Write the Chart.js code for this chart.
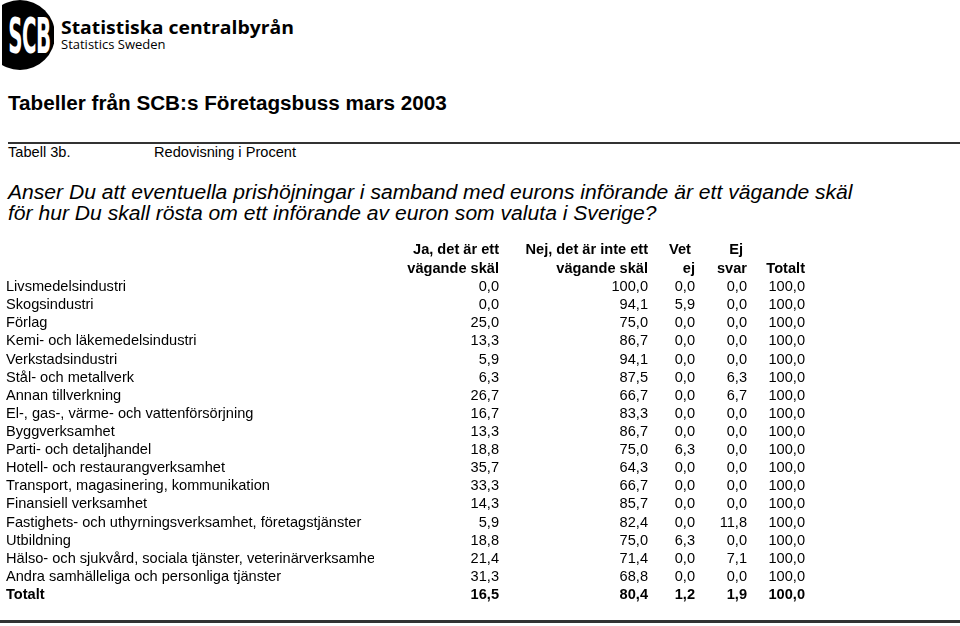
<!DOCTYPE html>
<html>
<head>
<meta charset="utf-8">
<title>Tabeller från SCB:s Företagsbuss mars 2003</title>
<script src="https://cdn.jsdelivr.net/npm/chart.js@4/dist/chart.umd.min.js"></script>
<style>
  body { margin: 0; background: #fff; }
  #page { position: relative; width: 960px; height: 626px; overflow: hidden; font-family: "Liberation Sans", Arial, sans-serif; color: #000; }
  .abs { position: absolute; white-space: nowrap; }
  #logoClip { left: 2px; top: 0; width: 52px; height: 70px; overflow: hidden; }
  #logoDisc { position: absolute; left: -17px; top: 0; width: 70px; height: 70px; border-radius: 50%; background: #000; }
  #logoText { left: -19px; top: 11px; width: 90px; text-align: center; color: #fff; font: bold 50px/50px "Liberation Sans Narrow", "DejaVu Sans Condensed", sans-serif; transform: scaleX(0.44); letter-spacing: -1px; }
  #brand1 { left: 61px; top: 17px; font: bold 17px/22px "Open Sans", sans-serif; transform: scaleX(1.14); transform-origin: left center; }
  #brand2 { left: 61px; top: 36px; font: 13px/16px "Open Sans", sans-serif; }
  #title { left: 8px; top: 93px; font: bold 20.7px/20.7px "Liberation Sans", Arial, sans-serif; }
  .rule { position: absolute; background: #333; }
  #sub1 { left: 8px; top: 145px; font: 14.6px/14.6px "Liberation Sans", Arial, sans-serif; }
  #sub2 { left: 154px; top: 145px; font: 14.6px/14.6px "Liberation Sans", Arial, sans-serif; }
  #question { left: 8px; top: 182px; font: italic 20px/21px "Liberation Sans", Arial, sans-serif; transform: scaleX(1.055); transform-origin: left top; }
  #tableCanvas { position: absolute; left: 0; top: 237px; }
</style>
</head>
<body>
<div id="page">
  <div id="logoClip" class="abs"><div id="logoDisc"></div><div id="logoText" class="abs">SCB</div></div>
  <div id="brand1" class="abs">Statistiska centralbyrån</div>
  <div id="brand2" class="abs">Statistics Sweden</div>
  <div id="title" class="abs">Tabeller från SCB:s Företagsbuss mars 2003</div>
  <div class="rule" style="left:8px; top:142px; width:952px; height:2px;"></div>
  <div id="sub1" class="abs">Tabell 3b.</div>
  <div id="sub2" class="abs">Redovisning i Procent</div>
  <div id="question" class="abs">Anser Du att eventuella prishöjningar i samband med eurons införande är ett vägande skäl<br>för hur Du skall rösta om ett införande av euron som valuta i Sverige?</div>
  <canvas id="tableCanvas" width="960" height="370"></canvas>
  <div class="rule" style="left:0; top:620px; width:960px; height:3px;"></div>
</div>
<script>
// ---------- table data
const branscher = [
    "Livsmedelsindustri",
    "Skogsindustri",
    "Förlag",
    "Kemi- och läkemedelsindustri",
    "Verkstadsindustri",
    "Stål- och metallverk",
    "Annan tillverkning",
    "El-, gas-, värme- och vattenförsörjning",
    "Byggverksamhet",
    "Parti- och detaljhandel",
    "Hotell- och restaurangverksamhet",
    "Transport, magasinering, kommunikation",
    "Finansiell verksamhet",
    "Fastighets- och uthyrningsverksamhet, företagstjänster",
    "Utbildning",
    "Hälso- och sjukvård, sociala tjänster, veterinärverksamhet",
    "Andra samhälleliga och personliga tjänster",
    "Totalt"
];
const jaVagande  = [0.0, 0.0, 25.0, 13.3, 5.9, 6.3, 26.7, 16.7, 13.3, 18.8, 35.7, 33.3, 14.3, 5.9, 18.8, 21.4, 31.3, 16.5];
const nejVagande = [100.0, 94.1, 75.0, 86.7, 94.1, 87.5, 66.7, 83.3, 86.7, 75.0, 64.3, 66.7, 85.7, 82.4, 75.0, 71.4, 68.8, 80.4];
const vetEj      = [0.0, 5.9, 0.0, 0.0, 0.0, 0.0, 0.0, 0.0, 0.0, 6.3, 0.0, 0.0, 0.0, 0.0, 6.3, 0.0, 0.0, 1.2];
const ejSvar     = [0.0, 0.0, 0.0, 0.0, 0.0, 6.3, 6.7, 0.0, 0.0, 0.0, 0.0, 0.0, 0.0, 11.8, 0.0, 7.1, 0.0, 1.9];
const totalt     = [100.0, 100.0, 100.0, 100.0, 100.0, 100.0, 100.0, 100.0, 100.0, 100.0, 100.0, 100.0, 100.0, 100.0, 100.0, 100.0, 100.0, 100.0];
const kolumnRubriker = [
    ["Ja, det är ett", "vägande skäl"],
    ["Nej, det är inte ett", "vägande skäl"],
    ["Vet ", "ej"],
    ["Ej ", "svar"],
    ["", "Totalt"]
];

// ---------- layout (right edge of every column, in x-scale units = px)
const kolumnHoger = [499, 648, 695, 747, 805];
const etikettX = 6;
const etikettKlipp = 374;
const FONT = '"Liberation Sans", Arial, sans-serif';

const fmt = function(v){
    return v.toFixed(1).replace('.', ',');
};

// ///////////// plugin that writes the cells at the scale positions
const tabellText = {
    id: 'tabellText',
    afterDatasetsDraw(chart){
        const ctx = chart.ctx;
        const x = chart.scales.x;
        const y = chart.scales.y;
        const top = chart.chartArea.top;
        ctx.save();
        ctx.fillStyle = '#000';
        ctx.textBaseline = 'middle';

        // column headings
        ctx.font = 'bold 14.6px ' + FONT;
        ctx.textAlign = 'right';
        kolumnRubriker.forEach((rub, j) => {
            const px = x.getPixelForValue(kolumnHoger[j]);
            ctx.fillText(rub[0], px, top - 28);
            ctx.fillText(rub[1], px, top - 9);
        });

        // row labels
        branscher.forEach((namn, i) => {
            const py = y.getPixelForValue(i);
            const last = i == branscher.length - 1;
            ctx.font = (last ? 'bold ' : '') + '14.6px ' + FONT;
            ctx.textAlign = 'left';
            ctx.save();
            ctx.beginPath();
            ctx.rect(0, py - 12, etikettKlipp, 24);
            ctx.clip();
            ctx.fillText(namn, etikettX, py);
            ctx.restore();
        });

        // values, one dataset per column
        chart.data.datasets.forEach((ds, j) => {
            const px = x.getPixelForValue(kolumnHoger[j]);
            ds.data.forEach((v, i) => {
                const py = y.getPixelForValue(i);
                const last = i == ds.data.length - 1;
                ctx.font = (last ? 'bold ' : '') + '14.6px ' + FONT;
                ctx.textAlign = 'right';
                ctx.fillText(fmt(v), px, py);
            });
        });
        ctx.restore();
    }
};

const ctx = document.getElementById('tableCanvas').getContext('2d');
const myTable = new Chart(ctx, {
    type: 'bar',
    data: {
        labels: branscher,
        datasets: [
            { label: 'Ja, det är ett vägande skäl', data: jaVagande },
            { label: 'Nej, det är inte ett vägande skäl', data: nejVagande },
            { label: 'Vet ej', data: vetEj },
            { label: 'Ej svar', data: ejSvar },
            { label: 'Totalt', data: totalt }
        ].map(d => Object.assign(d, { backgroundColor: 'rgba(0,0,0,0)', borderWidth: 0 }))
    },
    options: {
        indexAxis: 'y',
        responsive: false,
        animation: false,
        events: [],
        layout: { padding: { top: 41, bottom: 3, left: 0, right: 0 } },
        plugins: { legend: { display: false }, tooltip: { enabled: false } },
        scales: {
            x: { type: 'linear', min: 0, max: 960, display: false },
            y: { type: 'category', display: false, offset: true }
        }
    },
    plugins: [tabellText]
});
</script>
</body>
</html>
